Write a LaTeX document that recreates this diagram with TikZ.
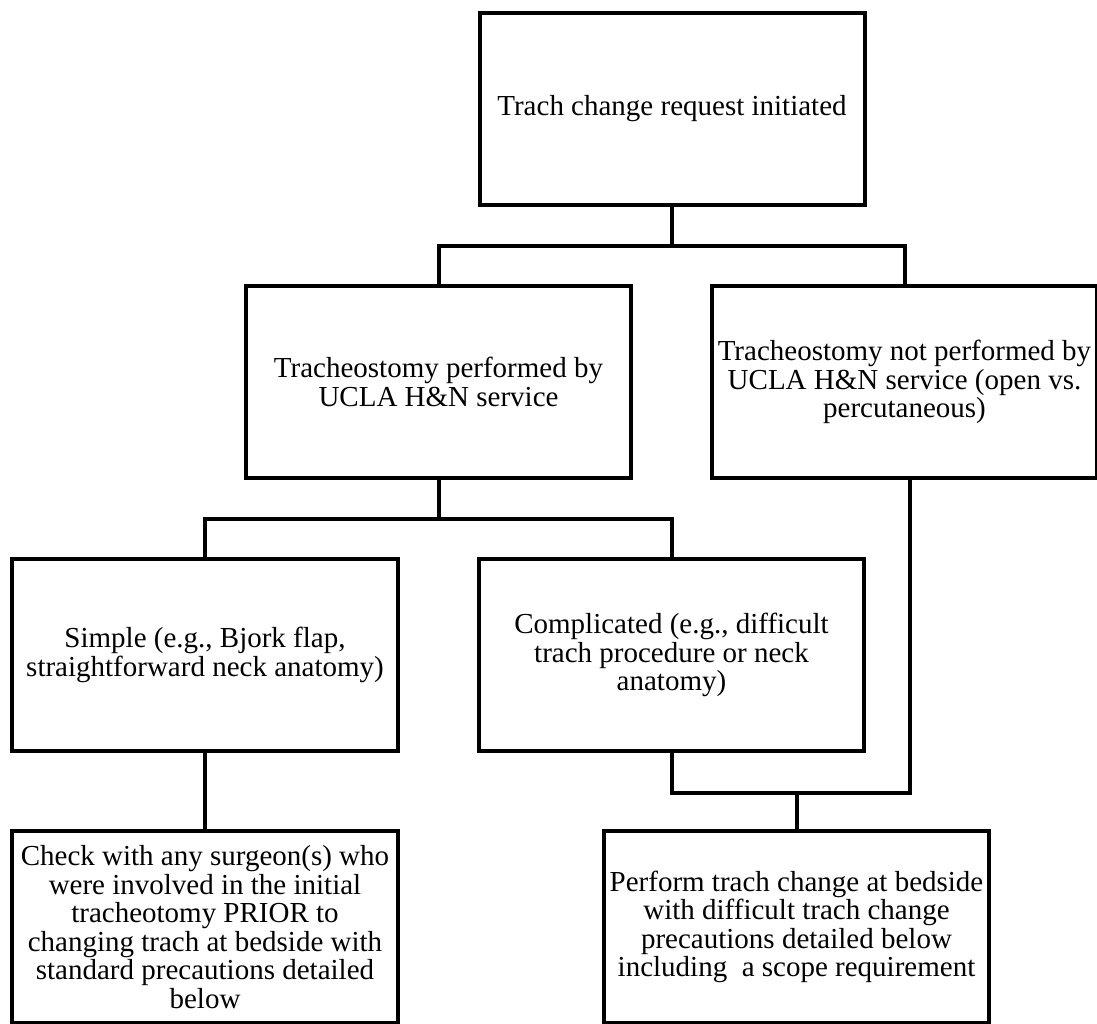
\documentclass[tikz,border=0pt]{standalone}
\usepackage{fontspec}
\setmainfont{Liberation Serif}
\usepackage{tikz}

\begin{document}
\begin{tikzpicture}[x=1bp,y=-1bp,
		box/.style={draw,line width=4bp,minimum width=385bp,minimum height=192bp,
			inner sep=2bp,align=center,font=\fontsize{29bp}{28.5bp}\selectfont},
		link/.style={line width=4bp}]
		\useasboundingbox (0,0) rectangle (1097,1024);
		\draw (672,109) node [box] (R) {Trach change request initiated};
		\draw (438.5,382) node [box] (U) {Tracheostomy performed by\\UCLA H\&N service};
		\draw (904.5,382) node [box] (O) {Tracheostomy not performed by\\UCLA H\&N service (open vs.\\percutaneous)};
		\draw (205,655) node [box] (S) {Simple (e.g., Bjork flap,\\straightforward neck anatomy)};
		\draw (671.5,655) node [box] (C) {Complicated (e.g., difficult\\trach procedure or neck\\anatomy)};
		\draw (205,927) node [box] (K) {Check with any surgeon(s) who\\were involved in the initial\\tracheotomy PRIOR to\\changing trach at bedside with\\standard precautions detailed\\below};
		\draw (796.5,927) node [box] (B) {Perform trach change at bedside\\with difficult trach change\\precautions detailed below\\including~ a scope requirement};
		\coordinate (J1) at (672,246);
		\coordinate (J2) at (438.5,519);
		\coordinate (J3) at (796.5,793);
		\draw [link] (R.south) -- (J1);
		\draw [link] (U.north) |- (J1) -| (O.north);
		\draw [link] (U.south) -- (J2);
		\draw [link] (S.north) |- (J2) -| (C.north);
		\draw [link] (S.south) -- (K.north);
		\draw [link] (C.south) |- (J3) -| ([xshift=5bp]O.south);
		\draw [link] (J3) -- (B.north);
	\end{tikzpicture}
\end{document}
